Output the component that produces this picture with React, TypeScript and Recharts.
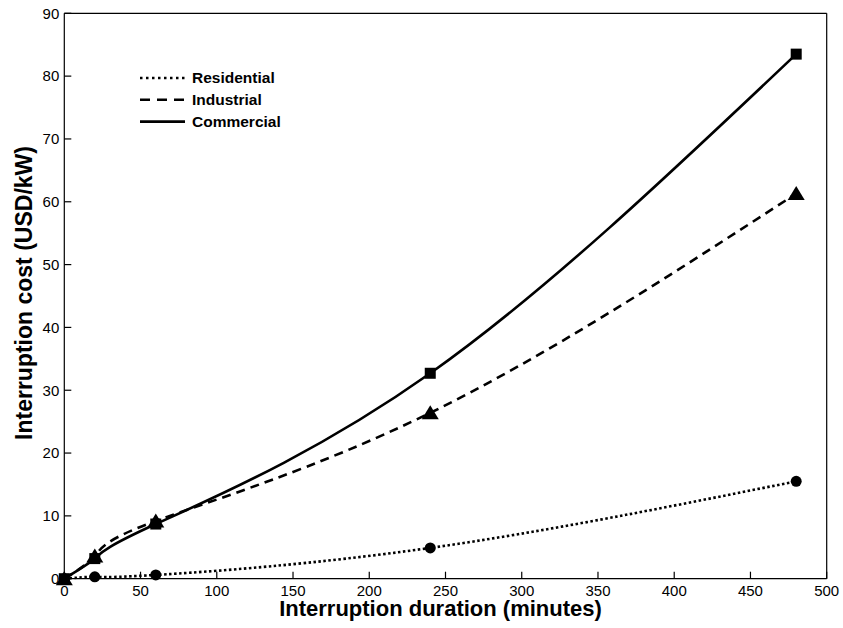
import { Legend, Line, LineChart, XAxis, YAxis } from "recharts";

const durations = [0, 20, 60, 240, 480];
const residential = [0, 0.3, 0.6, 4.9, 15.5];
const industrial = [0, 3.6, 9.2, 26.4, 61.3];
const commercial = [0, 3.2, 8.7, 32.7, 83.5];

const xTicks = [0, 50, 100, 150, 200, 250, 300, 350, 400, 450, 500];
const yTicks = [0, 10, 20, 30, 40, 50, 60, 70, 80, 90];

const FONT = '"Liberation Sans", Arial, Helvetica, sans-serif';

const data = durations.map((t, i) => ({
  t,
  residential: residential[i],
  industrial: industrial[i],
  commercial: commercial[i]
}));

const legendRows = [
  { key: "residential", name: "Residential", dash: "2.5 3.5" },
  { key: "industrial", name: "Industrial", dash: "10 7" },
  { key: "commercial", name: "Commercial", dash: undefined }
];

const circleDot = (p: any) => <circle key={`r-${p.index}`} cx={p.cx} cy={p.cy} r={5.5} fill="#000" />;
const squareDot = (p: any) => <rect key={`c-${p.index}`} x={p.cx - 5.5} y={p.cy - 5.5} width={11} height={11} fill="#000" />;
const triangleDot = (p: any) => (
  <path
    key={`i-${p.index}`}
    d={`M${p.cx},${p.cy - 7.5}L${p.cx + 8.5},${p.cy + 6.5}L${p.cx - 8.5},${p.cy + 6.5}Z`}
    fill="#000"
  />
);

function LegendBox() {
  return (
    <svg width={170} height={68} style={{ display: "block" }}>
      {legendRows.map((row, i) => {
        const y = 11 + i * 21.8;
        return (
          <g key={row.key}>
            <line x1={0} x2={45} y1={y} y2={y} stroke="#000" strokeWidth={2.6} strokeDasharray={row.dash} />
            <text x={52} y={y + 5.4} fontFamily={FONT} fontWeight="bold" fontSize={15.5} fill="#000">
              {row.name}
            </text>
          </g>
        );
      })}
    </svg>
  );
}

const axisStroke = { stroke: "#000", strokeWidth: 1.2 };

export default function App() {
  return (
    <div style={{ position: "absolute", left: 0, top: 0, background: "#fff" }}>
      <LineChart
        width={843}
        height={628}
        data={data}
        margin={{ top: 12.3, right: 15.3, bottom: 9.3, left: 14.3 }}
        style={{ fontFamily: FONT }}
      >
        <XAxis
          dataKey="t"
          type="number"
          domain={[0, 500]}
          ticks={xTicks}
          height={40}
          tickSize={-7}
          tickMargin={13.5}
          axisLine={axisStroke}
          tickLine={axisStroke}
          tick={{ fill: "#000", fontSize: 15, fontFamily: FONT }}
          label={{
            content: (props: any) => {
              const vb = props.viewBox;
              return (
                <text
                  x={vb.x + vb.width / 2 - 5}
                  y={vb.y + 37}
                  textAnchor="middle"
                  fontFamily={FONT}
                  fontWeight="bold"
                  fontSize={22}
                  fill="#000"
                >
                  Interruption duration (minutes)
                </text>
              );
            }
          }}
        />
        <XAxis
          xAxisId="top"
          orientation="top"
          dataKey="t"
          type="number"
          domain={[0, 500]}
          ticks={xTicks}
          height={1}
          tickSize={-7}
          tick={false}
          axisLine={axisStroke}
          tickLine={axisStroke}
        />
        <YAxis
          type="number"
          domain={[0, 90]}
          ticks={yTicks}
          width={50}
          tickSize={-7}
          tickMargin={12}
          axisLine={axisStroke}
          tickLine={axisStroke}
          tick={{ fill: "#000", fontSize: 15, fontFamily: FONT }}
          label={{
            content: (props: any) => {
              const vb = props.viewBox;
              const x = 32;
              const y = vb.y + vb.height / 2 - 3;
              return (
                <text
                  x={x}
                  y={y}
                  transform={`rotate(-90, ${x}, ${y})`}
                  textAnchor="middle"
                  fontFamily={FONT}
                  fontWeight="bold"
                  fontSize={23}
                  fill="#000"
                >
                  Interruption cost (USD/kW)
                </text>
              );
            }
          }}
        />
        <YAxis
          yAxisId="right"
          orientation="right"
          type="number"
          domain={[0, 90]}
          ticks={yTicks}
          width={1}
          tickSize={-7}
          tick={false}
          axisLine={axisStroke}
          tickLine={axisStroke}
        />
        <Legend
          layout="vertical"
          align="center"
          verticalAlign="middle"
          content={() => <LegendBox />}
          wrapperStyle={{ left: 140, top: 67, width: 170, height: 68 }}
        />
        <Line
          type="natural"
          dataKey="residential"
          name="Residential"
          stroke="#000"
          strokeWidth={2.6}
          strokeDasharray="2.5 2.5"
          dot={circleDot}
          activeDot={false}
          isAnimationActive={false}
        />
        <Line
          type="natural"
          dataKey="commercial"
          name="Commercial"
          stroke="#000"
          strokeWidth={2.6}
          dot={squareDot}
          activeDot={false}
          isAnimationActive={false}
        />
        <Line
          type="natural"
          dataKey="industrial"
          name="Industrial"
          stroke="#000"
          strokeWidth={2.6}
          strokeDasharray="9 6"
          dot={triangleDot}
          activeDot={false}
          isAnimationActive={false}
        />
      </LineChart>
    </div>
  );
}
